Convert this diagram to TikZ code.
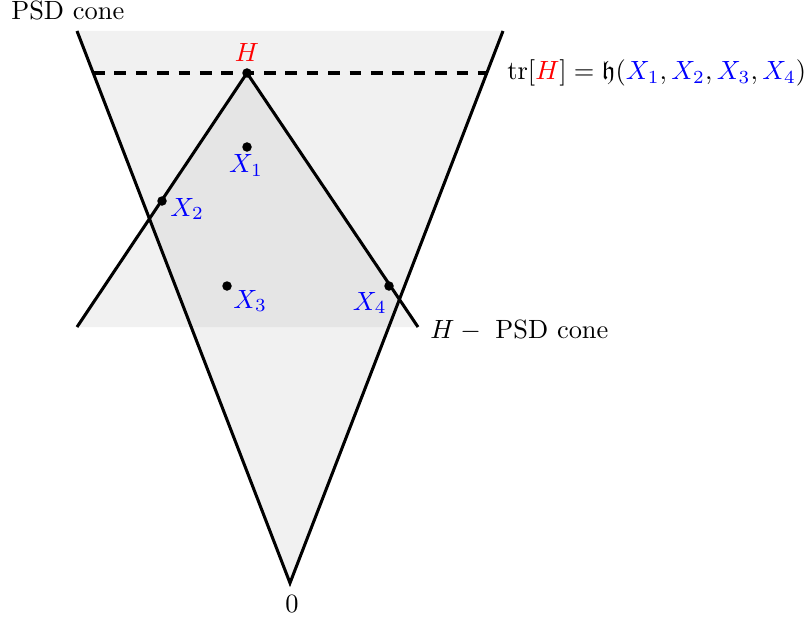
\documentclass[tikz,border=0pt]{standalone}
\usepackage{amsfonts}
\begin{document}
\begin{tikzpicture}[x=0.3788pt,y=-0.3788pt,
  edge/.style={line width=1.15pt},
  conefill/.style={fill=gray, fill opacity=0.11},
  dot/.style={circle, fill=black, inner sep=0pt, minimum size=3.6pt},
  bluelab/.style={text=blue}]
\useasboundingbox (0,0) rectangle (806,619);
\coordinate (O) at (290,583);
\coordinate (PL) at (77,31);
\coordinate (PR) at (503,31);
\coordinate (HL) at (77,327);
\coordinate (HR) at (418,327);
\coordinate (Hc) at (247,73);
\coordinate (DL) at (93,73);
\coordinate (DR) at (487,73);
\fill[conefill] (PL) -- (O) -- (PR) -- cycle;
\fill[conefill] (Hc) -- (HL) -- (HR) -- cycle;
\draw[edge] (PL) -- (O) -- (PR);
\draw[edge] (HL) -- (Hc) -- (HR);
\draw[line width=1.35pt, dash pattern=on 4.4pt off 3.7pt] (DL) -- (DR);
\node[dot] (H) at (Hc) {};
\node[dot] (X1) at (247,147) {};
\node[dot] (X2) at (162,201) {};
\node[dot] (X3) at (227,286) {};
\node[dot] (X4) at (389,286) {};
\node[anchor=base west] (psd) at (2,20) {PSD cone};
\node[anchor=base, text=red] (Hl) at (247,62) {$H$};
\node[anchor=base] (X1l) at (246,173) {$\color{blue}X_1$};
\node[anchor=base west] (X2l) at (161,216) {$\color{blue}X_2$};
\node[anchor=base west] (X3l) at (224,308) {$\color{blue}X_3$};
\node[anchor=base east] (X4l) at (396,310) {$\color{blue}X_4$};
\node[anchor=base west] (tr) at (498,80) {$\mathrm{tr}[{\color{red}H}] = \mathfrak{h}({\color{blue}X_1}, {\color{blue}X_2}, {\color{blue}X_3}, {\color{blue}X_4})$};
\node[anchor=base west] (hpsd) at (421,338) {$H-{}$ PSD cone};
\node[anchor=base] (zero) at (292,612) {$0$};
\end{tikzpicture}
\end{document}
